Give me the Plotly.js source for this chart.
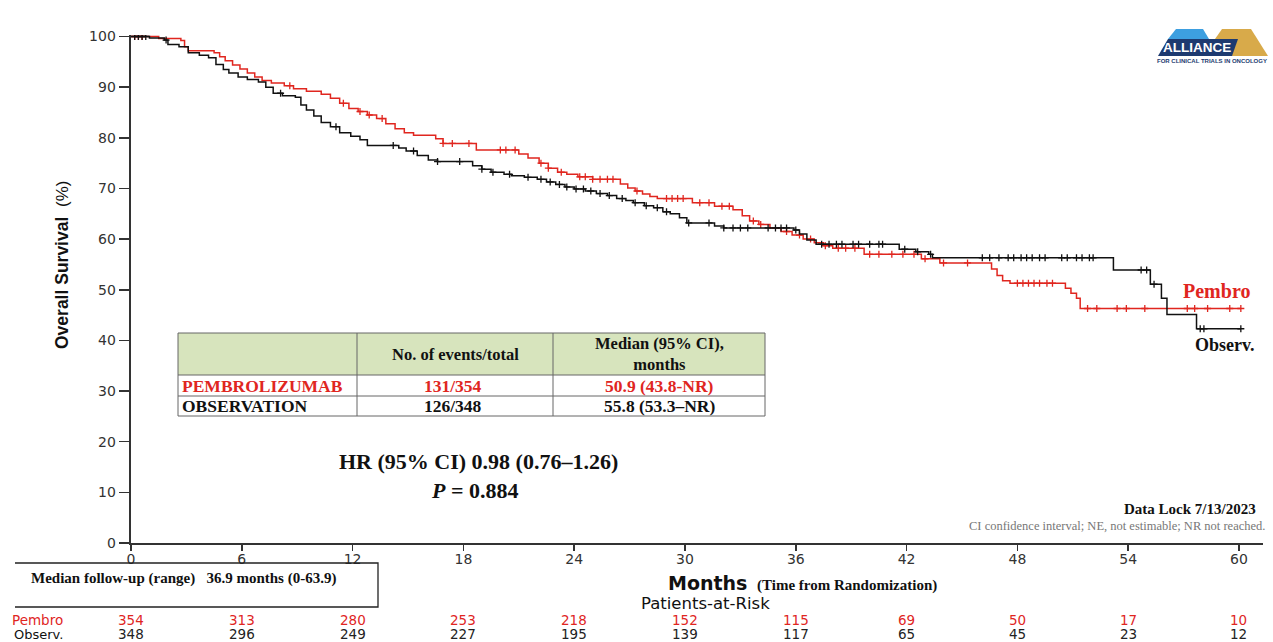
<!DOCTYPE html>
<html>
<head>
<meta charset="utf-8">
<script src="https://cdn.plot.ly/plotly-3.0.1.min.js"></script>
<style>
  html, body { margin: 0; padding: 0; background: #fff; }
  #chart { width: 1273px; height: 642px; }
</style>
</head>
<body>
<div id="chart"></div>
<script>
// Kaplan-Meier overall survival, pembrolizumab vs observation

const months = [0, 6, 12, 18, 24, 30, 36, 42, 48, 54, 60];
const riskPembro = [354, 313, 280, 253, 218, 152, 115, 69, 50, 17, 10];
const riskObserv = [348, 296, 249, 227, 195, 139, 117, 65, 45, 23, 12];

// step curves: time of each drop (months) and survival after it (%)
const pembroTime = [0, 1.5, 2.7, 2.9, 3.1, 4.5, 4.8, 5.1, 5.5, 5.9, 6.3, 6.7, 7.1, 7.6, 8.3,
  8.8, 9.5, 10.3, 10.8, 11.3, 11.8, 12.3, 12.8, 13.3, 13.8, 14.3, 14.8, 15.3, 16.5, 16.9, 18.7,
  21.0, 21.5, 22.1, 22.6, 23.1, 23.6, 24.2, 25.0, 26.5, 26.9, 27.3, 27.7, 28.1, 28.5, 30.4,
  31.6, 32.6, 33.1, 33.5, 34.0, 34.6, 35.2, 35.8, 36.4, 37.0, 37.5, 38.0, 39.7, 42.8, 43.8,
  46.6, 46.9, 47.2, 47.6, 50.6, 50.9, 51.2, 51.4, 60.1];
const pembroSurv = [100, 99.6, 99.2, 98.0, 97.2, 96.8, 96.0, 95.2, 94.4, 93.6, 92.8, 92.0, 91.3, 90.8, 90.3,
  89.7, 89.2, 88.6, 87.8, 86.8, 85.8, 85.2, 84.5, 83.8, 82.8, 81.8, 81.0, 80.5, 79.8, 78.9, 77.6,
  76.8, 76.0, 75.0, 74.0, 73.2, 72.8, 72.3, 71.8, 70.9, 70.1, 69.5, 68.9, 68.4, 68.0, 67.2,
  66.5, 65.8, 64.6, 63.6, 62.9, 62.2, 61.5, 60.8, 60.0, 59.3, 58.7, 58.2, 57.0, 56.1, 55.3,
  54.1, 52.8, 51.8, 51.3, 50.3, 49.3, 48.3, 46.3, 46.3];

const observTime = [0, 1.0, 1.8, 2.0, 2.6, 3.1, 3.7, 4.2, 4.6, 5.0, 5.3, 5.8, 6.3, 6.9, 7.3,
  7.7, 8.2, 8.9, 9.2, 9.5, 9.9, 10.3, 10.8, 11.3, 11.9, 12.4, 12.8, 14.5, 14.9, 15.5,
  16.1, 16.6, 18.5, 19.0, 19.5, 20.2, 20.6, 21.3, 22.0, 22.5, 23.0, 23.5, 24.0, 24.6, 25.2,
  25.8, 26.3, 26.8, 27.2, 27.8, 28.3, 28.8, 29.2, 29.7, 30.1, 31.6, 32.1, 35.9, 36.2, 36.6,
  37.1, 41.6, 42.5, 43.2, 43.4, 53.2, 55.2, 55.8, 56.1, 57.7, 60.1];
const observSurv = [100, 99.7, 99.3, 98.4, 98.0, 96.8, 96.3, 95.8, 94.5, 93.5, 92.8, 92.0, 91.5, 91.0, 90.0,
  88.8, 88.3, 88.0, 86.5, 85.5, 84.3, 83.0, 82.2, 81.0, 80.3, 79.6, 78.5, 78.0, 77.4, 76.5,
  75.6, 75.3, 74.5, 73.8, 73.2, 72.8, 72.5, 72.2, 71.8, 71.3, 70.8, 70.3, 69.9, 69.5, 69.0,
  68.6, 68.0, 67.6, 67.2, 66.6, 66.2, 65.4, 65.0, 64.2, 63.2, 62.6, 62.2, 61.8, 61.0, 59.8,
  59.0, 58.0, 57.5, 57.0, 56.3, 53.9, 51.1, 48.3, 45.1, 42.3, 42.3];

// censoring times (months)
const pembroCensor = [0.2, 0.4, 0.6, 8.6, 11.5, 12.4, 12.9, 13.6, 16.9, 17.4, 18.3, 20.0, 20.3, 20.8,
  22.2, 22.6, 23.3, 24.3, 24.6, 25.0, 25.4, 25.8, 26.1, 27.4, 29.0, 29.3, 29.6, 29.9, 30.8, 31.3,
  32.0, 32.4, 33.7, 34.1, 35.5, 36.2, 36.8, 37.6, 38.3, 38.7, 39.2, 40.0, 40.5, 41.2, 41.8, 42.4,
  43.0, 44.0, 45.3, 48.0, 48.3, 48.6, 48.9, 49.2, 49.6, 49.9, 51.8, 52.3, 53.4, 53.9, 54.9, 57.2,
  57.6, 58.3, 59.5, 60.1];
const observCensor = [0.2, 0.4, 0.6, 0.8, 1.9, 8.1, 11.1, 14.2, 15.3, 16.6, 17.8, 19.0, 19.6, 20.5,
  21.5, 22.2, 22.7, 23.2, 23.6, 24.1, 24.5, 24.9, 25.4, 25.9, 26.6, 27.3, 27.9, 28.5, 29.0, 30.2,
  31.3, 32.1, 32.6, 33.0, 33.4, 34.5, 34.9, 35.2, 35.5, 36.0, 37.4, 37.8, 38.2, 38.5, 39.1, 39.4,
  40.0, 40.5, 40.7, 41.9, 42.6, 43.3, 46.1, 46.5, 47.0, 47.5, 47.8, 48.2, 48.5, 48.8, 49.2, 49.5,
  50.4, 50.7, 51.2, 51.5, 51.9, 52.1, 54.7, 55.0, 55.4, 57.9, 58.1, 60.1];

const RED = '#e0261f';
const BLACK = '#111111';
const SERIF = 'Liberation Serif, Times New Roman, serif';
const SANS = 'Liberation Sans, Arial, sans-serif';
const WIDE = 'DejaVu Sans, Verdana, sans-serif';

// survival value of a step curve at time t
function stepAt(times, surv, t) {
  let v = surv[0];
  for (let i = 0; i < times.length; i++) { if (times[i] <= t) v = surv[i]; }
  return v;
}

// page geometry (pixels) -> paper coordinates
const W = 1273, H = 642;
const M = { l: 131, r: 10, t: 35, b: 99 };
const PW = W - M.l - M.r, PH = H - M.t - M.b;
const XMAX = 61.3;
const px = x => (x - M.l) / PW;
const py = y => (H - M.b - y) / PH;

const censorMarker = c => ({ symbol: 'cross-thin', size: 5, color: c, line: { color: c, width: 1.3 } });
const traces = [
  { x: pembroTime, y: pembroSurv, mode: 'lines', line: { shape: 'hv', color: RED, width: 1.5 }, hoverinfo: 'skip' },
  { x: pembroCensor, y: pembroCensor.map(t => stepAt(pembroTime, pembroSurv, t)), mode: 'markers',
    marker: censorMarker(RED), hoverinfo: 'skip' },
  { x: observTime, y: observSurv, mode: 'lines', line: { shape: 'hv', color: BLACK, width: 1.5 }, hoverinfo: 'skip' },
  { x: observCensor, y: observCensor.map(t => stepAt(observTime, observSurv, t)), mode: 'markers',
    marker: censorMarker(BLACK), hoverinfo: 'skip' }
];

const shapes = [];
const annotations = [];

function text(x, y, t, opt) {
  annotations.push(Object.assign({
    xref: 'paper', yref: 'paper', x: px(x), y: py(y), text: t, showarrow: false, borderpad: 0,
    xanchor: 'center', yanchor: 'middle', font: { family: SERIF, size: 16, color: BLACK }
  }, opt || {}));
}
function line(x0, y0, x1, y1, color, width) {
  shapes.push({ type: 'line', xref: 'paper', yref: 'paper', x0: px(x0), y0: py(y0), x1: px(x1), y1: py(y1),
    line: { color: color || '#555', width: width || 1 } });
}
function poly(points, color) {
  const d = points.map((p, i) => (i ? 'L' : 'M') + px(p[0]) + ',' + py(p[1])).join(' ') + ' Z';
  shapes.push({ type: 'path', xref: 'paper', yref: 'paper', path: d, fillcolor: color, line: { width: 0 } });
}

// summary table
const tX = [178, 357, 553, 765], tY = [333, 375, 396, 416];
shapes.push({ type: 'rect', xref: 'paper', yref: 'paper', x0: px(tX[0]), x1: px(tX[3]), y0: py(tY[0]), y1: py(tY[1]),
  fillcolor: '#d7e4bd', line: { width: 0 } });
tY.forEach(y => line(tX[0], y, tX[3], y, '#666', 1));
tX.forEach(x => line(x, tY[0], x, tY[3], '#666', 1));
const redCell = { family: SERIF, size: 17.5, color: RED };
const blkCell = { family: SERIF, size: 17.5, color: BLACK };
text(455, 354, '<b>No. of events/total</b>', { font: { family: SERIF, size: 16.5, color: BLACK } });
text(659, 354, '<b>Median (95% CI),<br>months</b>', { font: { family: SERIF, size: 16.5, color: BLACK } });
text(181, 386, '<b>PEMBROLIZUMAB</b>', { xanchor: 'left', font: redCell });
text(453, 386, '<b>131/354</b>', { font: redCell });
text(659, 386, '<b>50.9 (43.8-NR)</b>', { font: redCell });
text(181, 406, '<b>OBSERVATION</b>', { xanchor: 'left', font: blkCell });
text(453, 406, '<b>126/348</b>', { font: blkCell });
text(659, 406, '<b>55.8 (53.3–NR)</b>', { font: blkCell });

// hazard ratio
text(478, 461, '<b>HR (95% CI) 0.98 (0.76–1.26)</b>', { font: { family: SERIF, size: 22, color: BLACK } });
text(475, 490, '<b><i>P</i> = 0.884</b>', { font: { family: SERIF, size: 22, color: BLACK } });

// curve labels
text(1251, 291, '<b>Pembro</b>', { xanchor: 'right', font: { family: SERIF, size: 20, color: RED } });
text(1256, 345, '<b>Observ.</b>', { xanchor: 'right', font: { family: SERIF, size: 18, color: BLACK } });

// footnotes
text(1257, 509, '<b>Data Lock 7/13/2023</b>', { xanchor: 'right', font: { family: SERIF, size: 15, color: BLACK } });
text(1266, 526, 'CI confidence interval; NE, not estimable; NR not reached.', { xanchor: 'right', font: { family: SERIF, size: 12.5, color: '#777' } });

// y-axis title
text(62, 265, '<b>Overall Survival</b>  <span style="font-size:17px">(%)</span>',
  { textangle: -90, font: { family: SANS, size: 17.5, color: BLACK } });

// x-axis title and risk table
text(748, 583, '<b>Months</b>', { xanchor: 'right', font: { family: WIDE, size: 19, color: BLACK } });
text(756, 585, '<b>(Time from Randomization)</b>', { xanchor: 'left', font: { family: SERIF, size: 15, color: BLACK } });
text(705, 603, 'Patients-at-Risk', { font: { family: WIDE, size: 16.5, color: BLACK } });
text(64, 620, 'Pembro', { xanchor: 'right', font: { family: WIDE, size: 13.5, color: RED } });
text(64, 634, 'Observ.', { xanchor: 'right', font: { family: WIDE, size: 13, color: BLACK } });
months.forEach((m, i) => {
  const xpix = M.l + m / XMAX * PW;
  text(xpix, 620, String(riskPembro[i]), { font: { family: WIDE, size: 13.5, color: RED } });
  text(xpix, 634, String(riskObserv[i]), { font: { family: WIDE, size: 13.5, color: '#222' } });
});

// follow-up box
shapes.push({ type: 'path', xref: 'paper', yref: 'paper',
  path: 'M' + px(15) + ',' + py(563) + ' L' + px(378) + ',' + py(563) + ' L' + px(378) + ',' + py(607) + ' L' + px(15) + ',' + py(607),
  line: { color: '#222', width: 1.3 } });
text(30, 578, '<b>Median follow-up (range)   36.9 months (0-63.9)</b>', { xanchor: 'left', font: { family: SERIF, size: 15, color: BLACK } });

// logo
poly([[1168, 39], [1176, 29], [1203, 29], [1209, 39]], '#3d9fe0');
poly([[1215, 39], [1222, 29], [1251, 29], [1268, 56], [1226, 56]], '#d8aa4a');
poly([[1158, 56], [1168, 39], [1238, 39], [1232, 56]], '#1d3a70');
text(1197, 47.5, '<b>ALLIANCE</b>', { font: { family: SANS, size: 13.5, color: '#ffffff' } });
text(1212, 61, '<b>FOR CLINICAL TRIALS IN ONCOLOGY</b>', { font: { family: SANS, size: 6, color: '#1d3a70' } });

const layout = {
  width: W, height: H,
  margin: M,
  paper_bgcolor: '#ffffff', plot_bgcolor: '#ffffff',
  showlegend: false,
  xaxis: {
    range: [0, XMAX], tickvals: months, ticktext: months.map(String),
    showgrid: false, zeroline: false, showline: true, linecolor: '#333', linewidth: 2,
    ticks: 'outside', ticklen: 6, tickwidth: 1.5, tickcolor: '#333', ticklabelstandoff: -4,
    tickfont: { family: WIDE, size: 14, color: '#333' }
  },
  yaxis: {
    range: [0, 100.3], tickvals: [0, 10, 20, 30, 40, 50, 60, 70, 80, 90, 100],
    showgrid: false, zeroline: false, showline: true, linecolor: '#333', linewidth: 2.4,
    ticks: 'outside', ticklen: 10, tickwidth: 1.5, tickcolor: '#333',
    tickfont: { family: WIDE, size: 14, color: '#333' }
  },
  shapes: shapes,
  annotations: annotations
};

Plotly.newPlot('chart', traces, layout, { displayModeBar: false, staticPlot: true });
</script>
</body>
</html>
